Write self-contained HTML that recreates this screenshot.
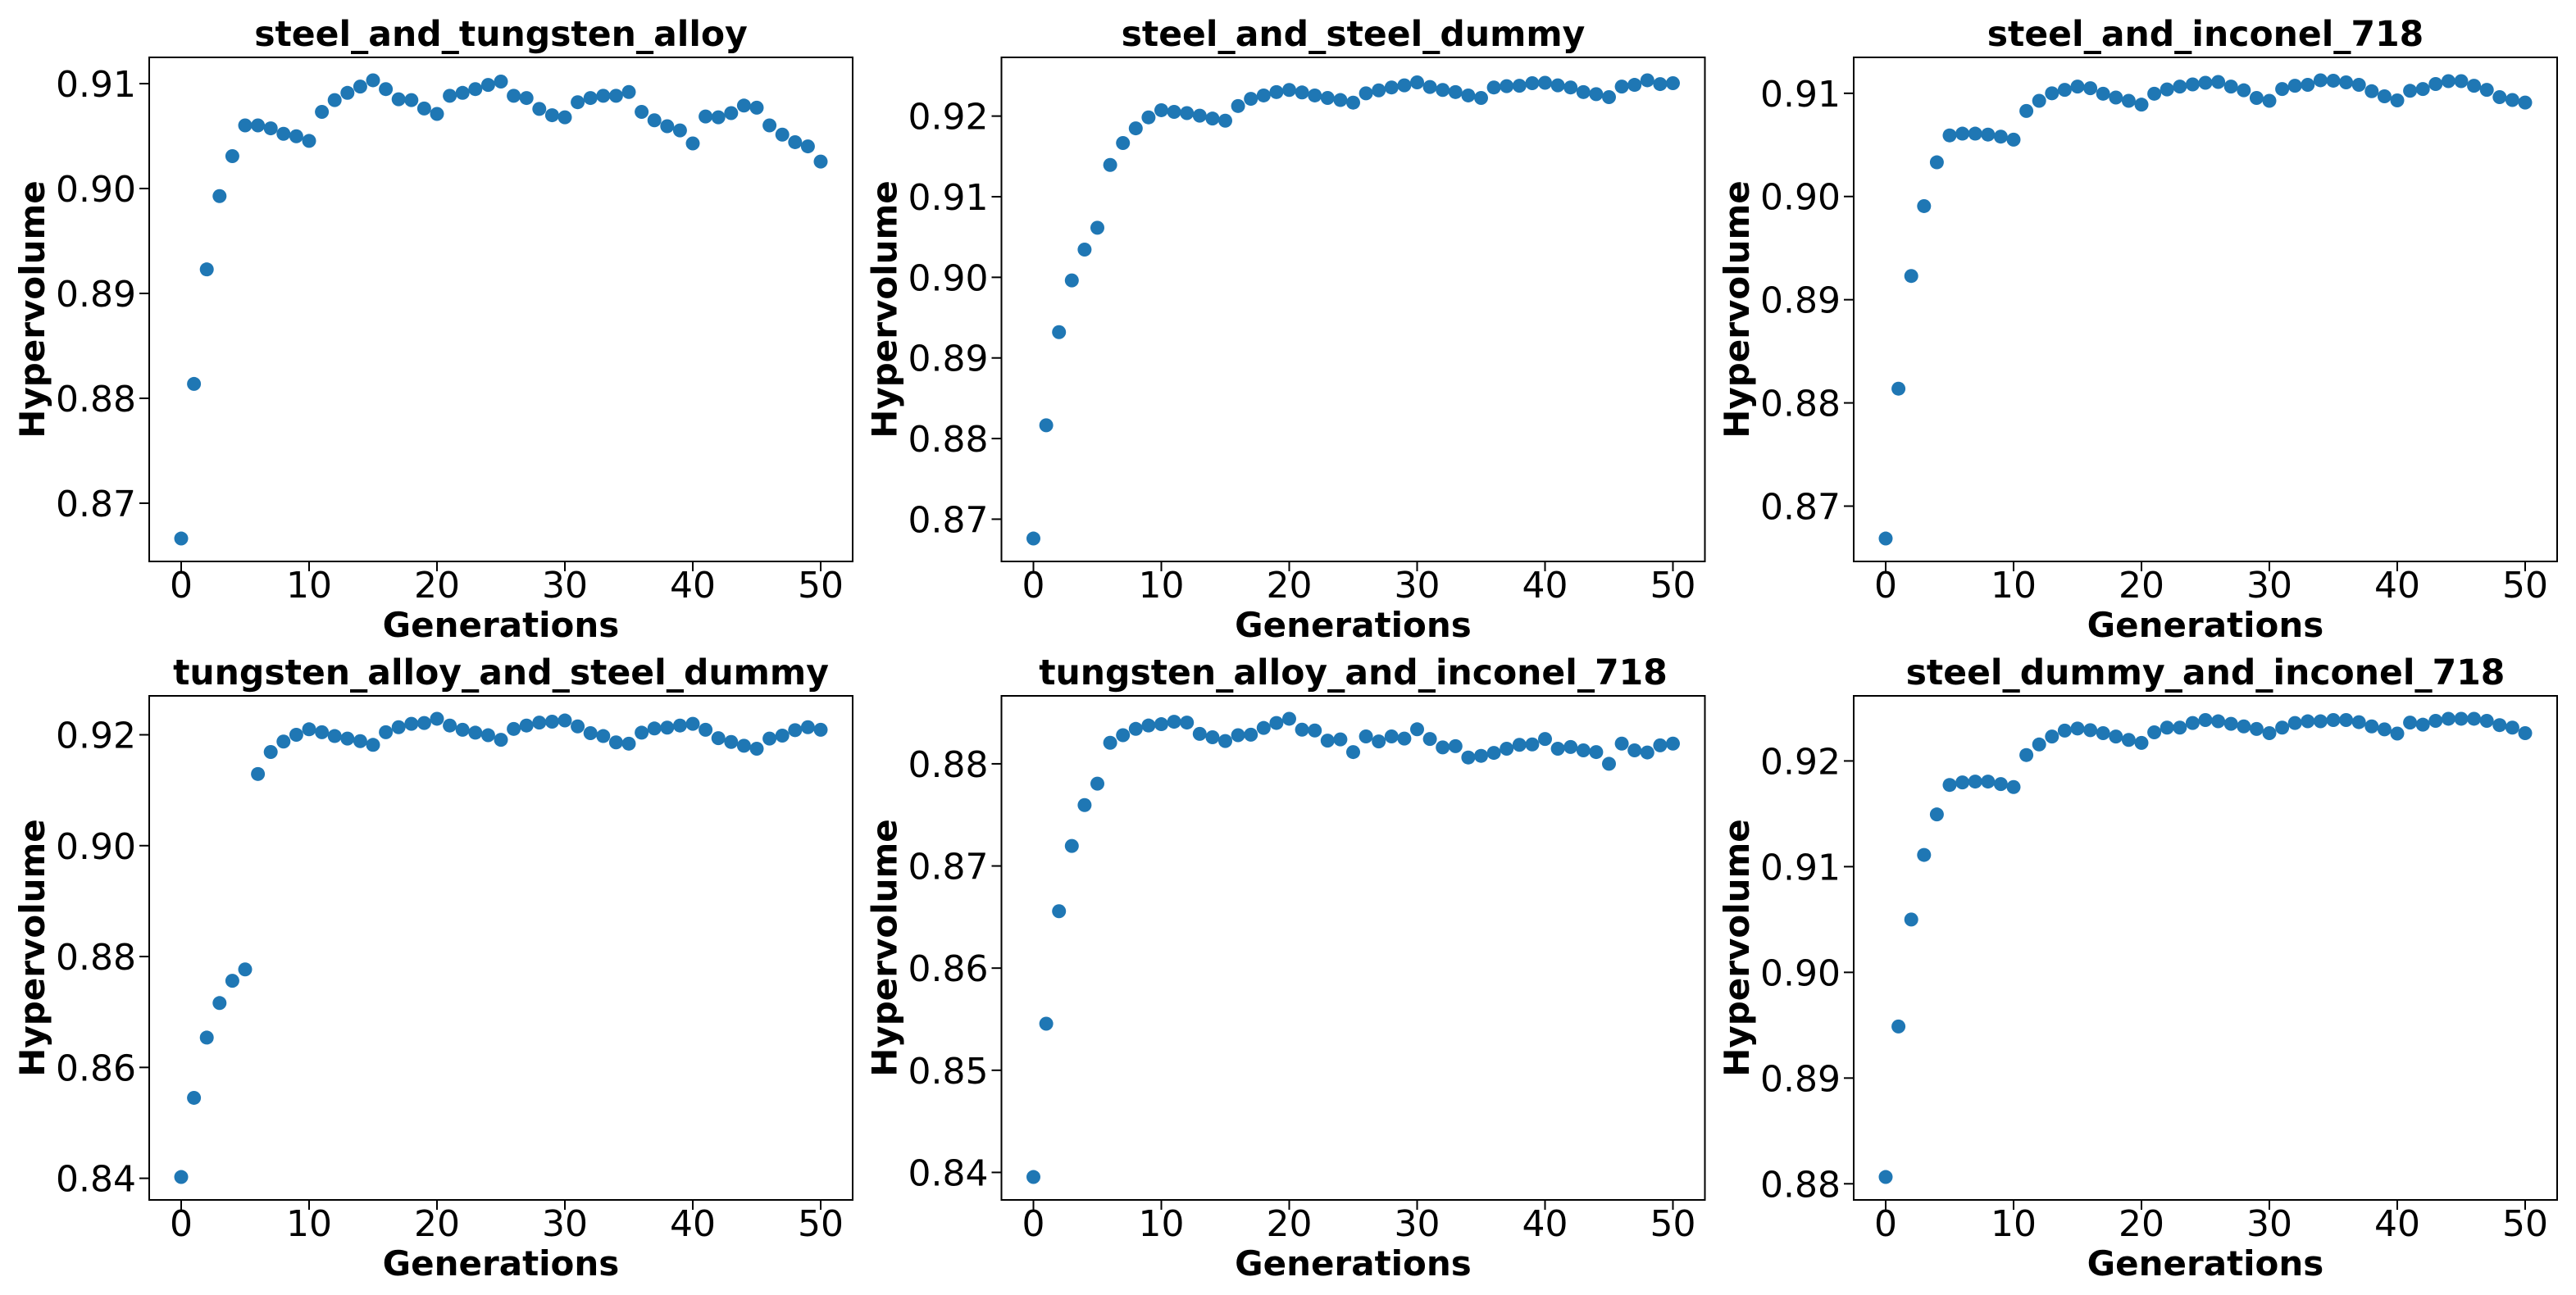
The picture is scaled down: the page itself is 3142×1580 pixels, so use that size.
<!DOCTYPE html>
<html>
<head>
<meta charset="utf-8">
<style>
html,body{margin:0;padding:0;background:#fff;}
svg{display:block;}
text{font-family:"DejaVu Sans","Liberation Sans",sans-serif;fill:#000;}
</style>
</head>
<body>
<svg id="fig" width="3142" height="1580" viewBox="0 0 3142 1580" xmlns="http://www.w3.org/2000/svg">
<rect x="0" y="0" width="3142" height="1580" fill="#fff"/>
</svg>
<script>
const generations = Array.from({length:51},(_, i)=>i);
const titles = ["steel_and_tungsten_alloy","steel_and_steel_dummy","steel_and_inconel_718","tungsten_alloy_and_steel_dummy","tungsten_alloy_and_inconel_718","steel_dummy_and_inconel_718"];
const seriesSteelTungsten = [0.86663,0.88137,0.89229,0.89928,0.90309,0.90602,0.90602,0.90574,0.90522,0.90498,0.90454,0.90731,0.90843,0.90912,0.90972,0.91032,0.90948,0.90851,0.90843,0.90763,0.90711,0.90884,0.90912,0.90948,0.90988,0.91020,0.90884,0.90863,0.90759,0.90699,0.90679,0.90823,0.90863,0.90884,0.90884,0.90920,0.90731,0.90651,0.90594,0.90554,0.90430,0.90687,0.90679,0.90719,0.90791,0.90771,0.90602,0.90514,0.90442,0.90402,0.90257];
const seriesSteelDummy = [0.86760,0.88165,0.89320,0.89962,0.90344,0.90615,0.91394,0.91666,0.91848,0.91984,0.92073,0.92052,0.92037,0.92005,0.91969,0.91943,0.92125,0.92214,0.92256,0.92298,0.92324,0.92293,0.92256,0.92225,0.92199,0.92167,0.92282,0.92319,0.92355,0.92381,0.92418,0.92361,0.92324,0.92298,0.92256,0.92225,0.92355,0.92371,0.92376,0.92408,0.92413,0.92381,0.92355,0.92298,0.92272,0.92235,0.92366,0.92387,0.92444,0.92397,0.92408];
const seriesSteelInconel = [0.86686,0.88138,0.89230,0.89907,0.90331,0.90592,0.90609,0.90609,0.90600,0.90580,0.90551,0.90829,0.90927,0.91000,0.91033,0.91065,0.91049,0.90996,0.90959,0.90927,0.90890,0.90996,0.91037,0.91065,0.91086,0.91102,0.91110,0.91065,0.91029,0.90955,0.90927,0.91041,0.91073,0.91082,0.91126,0.91122,0.91106,0.91082,0.91020,0.90971,0.90931,0.91024,0.91041,0.91090,0.91118,0.91118,0.91073,0.91033,0.90963,0.90935,0.90910];
const seriesTungstenDummy = [0.84023,0.85451,0.86538,0.87161,0.87563,0.87768,0.91293,0.91689,0.91878,0.92000,0.92099,0.92046,0.91977,0.91932,0.91886,0.91818,0.92046,0.92137,0.92198,0.92213,0.92289,0.92167,0.92091,0.92038,0.91992,0.91909,0.92106,0.92167,0.92220,0.92236,0.92258,0.92152,0.92030,0.91977,0.91863,0.91840,0.92038,0.92114,0.92129,0.92167,0.92198,0.92091,0.91939,0.91871,0.91802,0.91749,0.91932,0.91985,0.92084,0.92137,0.92091];
const seriesTungstenInconel = [0.83955,0.85456,0.86557,0.87196,0.87596,0.87806,0.88206,0.88280,0.88342,0.88375,0.88388,0.88412,0.88404,0.88293,0.88260,0.88223,0.88280,0.88285,0.88351,0.88400,0.88441,0.88334,0.88326,0.88227,0.88239,0.88115,0.88268,0.88219,0.88268,0.88247,0.88338,0.88243,0.88161,0.88173,0.88062,0.88078,0.88107,0.88148,0.88186,0.88190,0.88243,0.88148,0.88165,0.88132,0.88115,0.88000,0.88198,0.88132,0.88111,0.88181,0.88198];
const seriesDummyInconel = [0.88064,0.89488,0.90500,0.91111,0.91494,0.91773,0.91797,0.91805,0.91805,0.91781,0.91753,0.92056,0.92156,0.92231,0.92287,0.92307,0.92291,0.92263,0.92231,0.92199,0.92171,0.92271,0.92315,0.92315,0.92359,0.92387,0.92375,0.92351,0.92327,0.92303,0.92263,0.92315,0.92359,0.92375,0.92375,0.92387,0.92387,0.92367,0.92327,0.92299,0.92259,0.92363,0.92343,0.92379,0.92399,0.92399,0.92399,0.92379,0.92339,0.92315,0.92263];
const xTicks = [0,10,20,30,40,50];
const yTicks1 = [0.87,0.88,0.89,0.90,0.91];
const yTicks2 = [0.87,0.88,0.89,0.90,0.91,0.92];
const yTicks3 = [0.87,0.88,0.89,0.90,0.91];
const yTicks4 = [0.84,0.86,0.88,0.90,0.92];
const yTicks5 = [0.84,0.85,0.86,0.87,0.88];
const yTicks6 = [0.88,0.89,0.90,0.91,0.92];

const allSeries = [seriesSteelTungsten,seriesSteelDummy,seriesSteelInconel,seriesTungstenDummy,seriesTungstenInconel,seriesDummyInconel];
const allTicks = [yTicks1,yTicks2,yTicks3,yTicks4,yTicks5,yTicks6];
const NS = "http://www.w3.org/2000/svg";
const svg = document.getElementById('fig');
function mk(tag, attrs, parent){
  const e = document.createElementNS(NS, tag);
  for (const k in attrs) e.setAttribute(k, attrs[k]);
  parent.appendChild(e);
  return e;
}
const colLeft = [182, 1221.5, 2261];
const rowTop = [70, 849];
const W = 858, H = 615;
for (let p = 0; p < 6; p++) {
  const L = colLeft[p % 3], T = rowTop[Math.floor(p / 3)];
  const data = allSeries[p];
  const g = mk('g', {}, svg);
  
  
  let mn = Math.min(...data), mx = Math.max(...data);
  const pad = (mx - mn) * 0.05;
  const y0 = mn - pad, y1 = mx + pad;
  const xMin = -2.5, xMax = 52.5;
  const xs = v => L + (v - xMin) / (xMax - xMin) * W;
  const ys = v => T + H - (v - y0) / (y1 - y0) * H;
  const t = mk('text', {x: L + W / 2, y: T - 14, 'text-anchor': 'middle', 'font-size': 42.5, 'font-weight': 'bold'}, g);
  t.textContent = titles[p];
  
  
  data.forEach((v, i) => {
    const c = mk('circle', {cx: xs(generations[i]), cy: ys(v), r: 8.5, fill: '#1f77b4'}, g);
    
    
  });
  const fr = mk('rect', {x: L, y: T, width: W, height: H, fill: 'none', stroke: '#000', 'stroke-width': 2}, g);
  
  
  xTicks.forEach(v => {
    const x = xs(v);
    mk('line', {x1: x, x2: x, y1: T + H, y2: T + H + 12, stroke: '#000', 'stroke-width': 2}, g);
    const tl = mk('text', {x: x, y: T + H + 44, 'text-anchor': 'middle', 'font-size': 44}, g);
    tl.textContent = String(v);
    
    
  });
  allTicks[p].forEach(v => {
    const y = ys(v);
    mk('line', {x1: L - 12, x2: L, y1: y, y2: y, stroke: '#000', 'stroke-width': 2}, g);
    const tl = mk('text', {x: L - 16, y: y + 16, 'text-anchor': 'end', 'font-size': 44}, g);
    tl.textContent = v.toFixed(2);
    
    
  });
  const xl = mk('text', {x: L + W / 2, y: T + H + 92, 'text-anchor': 'middle', 'font-size': 42, 'font-weight': 'bold'}, g);
  xl.textContent = 'Generations';
  
  
  const cy = T + H / 2, cx = L - 128;
  const yl = mk('text', {x: cx, y: cy, 'text-anchor': 'middle', 'font-size': 42, 'font-weight': 'bold', transform: 'rotate(-90 ' + cx + ' ' + cy + ')'}, g);
  yl.textContent = 'Hypervolume';
  
  
}
</script>
</body>
</html>
